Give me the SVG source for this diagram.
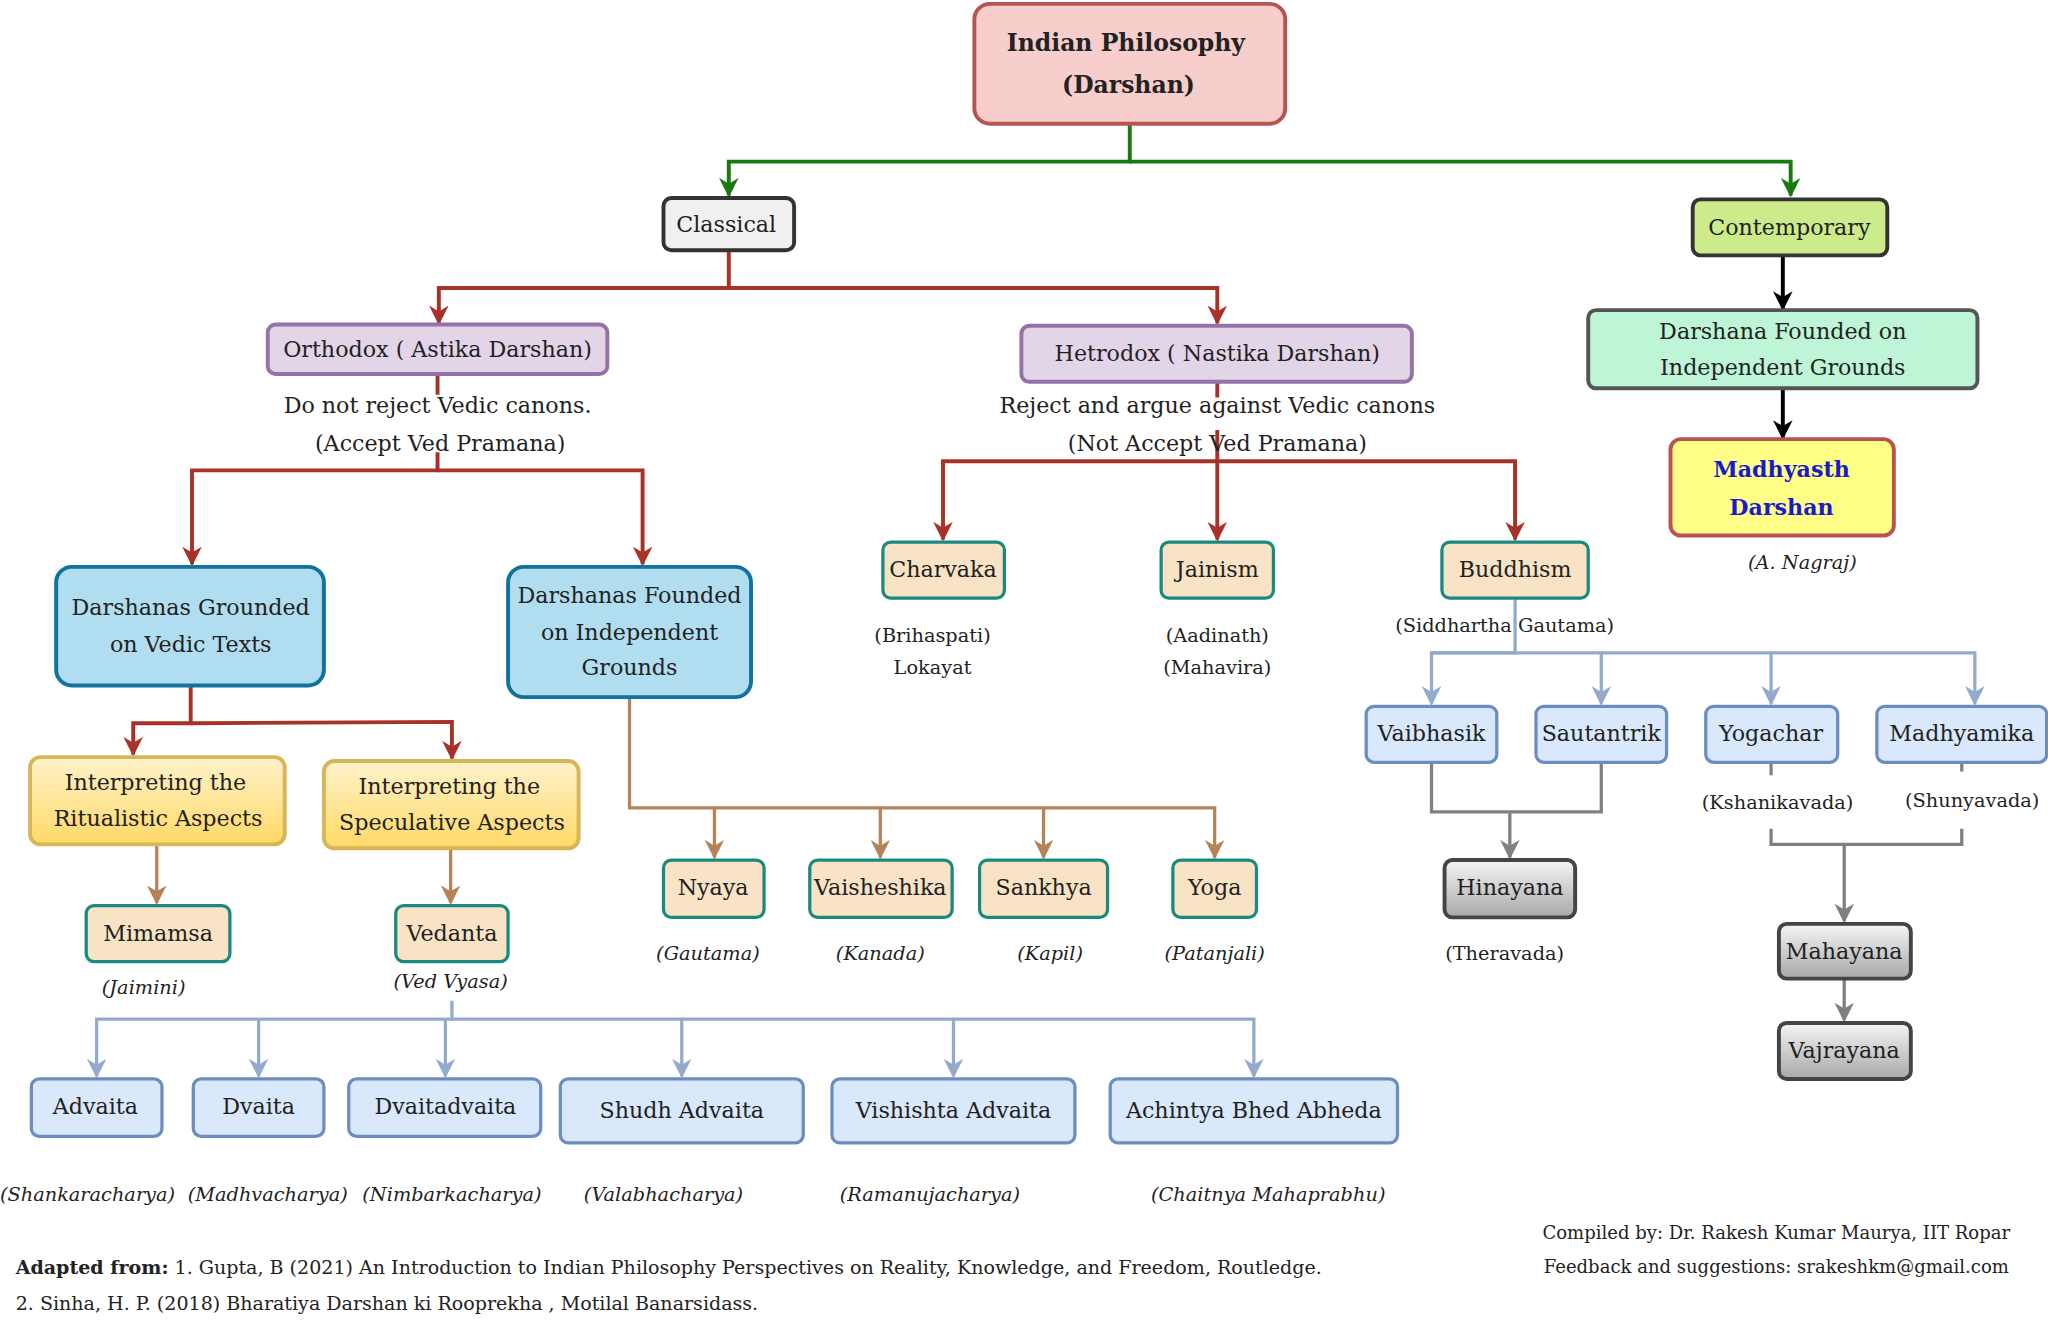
<svg xmlns="http://www.w3.org/2000/svg" width="2048" height="1324" viewBox="0 0 2048 1324">
<defs>
<style>
text{font-family:"DejaVu Serif","Liberation Serif",serif;fill:#222;text-anchor:middle}
.t{font-size:17px}
.s{font-size:14.8px}
.i{font-size:14.8px;font-style:italic}
.f{font-size:14.6px;text-anchor:start}
.g{fill:none;stroke:#1a7a10;stroke-width:3}
.r{fill:none;stroke:#a8322a;stroke-width:3}
.k{fill:none;stroke:#000;stroke-width:3}
.b{fill:none;stroke:#b5835a;stroke-width:2.5}
.l{fill:none;stroke:#92abcc;stroke-width:2.5}
.y{fill:none;stroke:#808080;stroke-width:2.5}
.teal{fill:#f8e3c5;stroke:#1a8a80;stroke-width:2.5}
.blu{fill:#dae8fc;stroke:#6c8ebf;stroke-width:2.5}
</style>
<marker id="ag" viewBox="0 0 10 10" refX="9" refY="5" markerWidth="5" markerHeight="5" orient="auto"><path d="M0,0L10,5L0,10L3,5z" fill="#1a7a10"/></marker>
<marker id="ar" viewBox="0 0 10 10" refX="9" refY="5" markerWidth="5" markerHeight="5" orient="auto"><path d="M0,0L10,5L0,10L3,5z" fill="#a8322a"/></marker>
<marker id="ak" viewBox="0 0 10 10" refX="9" refY="5" markerWidth="5" markerHeight="5" orient="auto"><path d="M0,0L10,5L0,10L3,5z" fill="#000"/></marker>
<marker id="ab" viewBox="0 0 10 10" refX="9" refY="5" markerWidth="6" markerHeight="6" orient="auto"><path d="M0,0L10,5L0,10L3,5z" fill="#b5835a"/></marker>
<marker id="al" viewBox="0 0 10 10" refX="9" refY="5" markerWidth="6" markerHeight="6" orient="auto"><path d="M0,0L10,5L0,10L3,5z" fill="#92abcc"/></marker>
<marker id="ay" viewBox="0 0 10 10" refX="9" refY="5" markerWidth="6" markerHeight="6" orient="auto"><path d="M0,0L10,5L0,10L3,5z" fill="#808080"/></marker>
<linearGradient id="yel" x1="0" y1="0" x2="0" y2="1"><stop offset="0" stop-color="#fff2cc"/><stop offset="1" stop-color="#ffd966"/></linearGradient>
<linearGradient id="gry" x1="0" y1="0" x2="0" y2="1"><stop offset="0" stop-color="#f5f5f5"/><stop offset="1" stop-color="#a8a8a8"/></linearGradient>
</defs>
<rect width="2048" height="1324" fill="#fff"/>
<g transform="scale(1.3061,1.3031)">
<g id="connectors">
<path class="g" d="M865,95V124H558V150" marker-end="url(#ag)"/>
<path class="g" d="M865,124H1371V150" marker-end="url(#ag)"/>
<path class="r" d="M558,192V221H336V248" marker-end="url(#ar)"/>
<path class="r" d="M558,221H932V248" marker-end="url(#ar)"/>
<path class="k" d="M1365,196V237" marker-end="url(#ak)"/>
<path class="k" d="M1365,298V336" marker-end="url(#ak)"/>
<path class="r" d="M335,287V303M335,347V361H147V433" marker-end="url(#ar)"/>
<path class="r" d="M335,361H492V433" marker-end="url(#ar)"/>
<path class="r" d="M932,293V305M932,330V354H722V414" marker-end="url(#ar)"/>
<path class="r" d="M932,354V414" marker-end="url(#ar)"/>
<path class="r" d="M932,354H1160V414" marker-end="url(#ar)"/>
<path class="r" d="M146,526V555H102V579" marker-end="url(#ar)"/>
<path class="r" d="M146,555L346,554V582" marker-end="url(#ar)"/>
<path class="b" d="M120,648V693" marker-end="url(#ab)"/>
<path class="b" d="M345,651V693" marker-end="url(#ab)"/>
<path class="b" d="M482,535V620H547V658" marker-end="url(#ab)"/>
<path class="b" d="M547,620H674V658" marker-end="url(#ab)"/>
<path class="b" d="M674,620H799V658" marker-end="url(#ab)"/>
<path class="b" d="M799,620H930V658" marker-end="url(#ab)"/>
<path class="l" d="M346,768V782H74V826" marker-end="url(#al)"/>
<path class="l" d="M198,782V826" marker-end="url(#al)"/>
<path class="l" d="M341,782V826" marker-end="url(#al)"/>
<path class="l" d="M346,782H522V826" marker-end="url(#al)"/>
<path class="l" d="M522,782H730V826" marker-end="url(#al)"/>
<path class="l" d="M730,782H960V826" marker-end="url(#al)"/>
<path class="l" d="M1160,459V501H1096V540" marker-end="url(#al)"/>
<path class="l" d="M1096,501H1226V540" marker-end="url(#al)"/>
<path class="l" d="M1226,501H1356V540" marker-end="url(#al)"/>
<path class="l" d="M1356,501H1512V540" marker-end="url(#al)"/>
<path class="y" d="M1096,585V623H1226V585M1156,623V658" marker-end="url(#ay)"/>
<path class="y" d="M1356,585V595M1502,585V592M1356,636V648H1502V636M1412,648V707" marker-end="url(#ay)"/>
<path class="y" d="M1412,751V783" marker-end="url(#ay)"/>
</g>
<g id="root"><rect x="746" y="3" width="238" height="92" rx="12" fill="#f8cecc" stroke="#b85450" stroke-width="3"/><text x="862" y="39" font-weight="bold" font-size="18">Indian Philosophy</text><text x="864" y="71" font-weight="bold" font-size="18">(Darshan)</text></g>
<g id="classical"><rect x="508" y="152" width="100" height="40" rx="6" fill="#f0f0f0" stroke="#333" stroke-width="3"/><text class="t" x="556" y="178">Classical</text></g>
<g id="contemporary"><rect x="1296" y="153" width="149" height="43" rx="6" fill="#cdeb8b" stroke="#333" stroke-width="3"/><text class="t" x="1370" y="180">Contemporary</text></g>
<g id="indep"><rect x="1216" y="238" width="298" height="60" rx="6" fill="#bdf5d6" stroke="#555" stroke-width="3"/><text class="t" x="1365" y="260">Darshana Founded on</text><text class="t" x="1365" y="288">Independent Grounds</text></g>
<g id="madhyasth"><rect x="1279" y="337" width="171" height="74" rx="8" fill="#ffff88" stroke="#b85450" stroke-width="3"/><text class="t" x="1364" y="366" font-weight="bold" style="fill:#1a1acc">Madhyasth</text><text class="t" x="1364" y="395" font-weight="bold" style="fill:#1a1acc">Darshan</text><text class="i" x="1380" y="437">(A. Nagraj)</text></g>
<g id="orthodox"><rect x="205" y="249" width="260" height="38" rx="6" fill="#e1d5e7" stroke="#9673a6" stroke-width="3"/><text class="t" x="335" y="274">Orthodox ( Astika Darshan)</text><text class="t" x="335" y="317">Do not reject  Vedic canons.</text><text class="t" x="337" y="346">(Accept Ved Pramana)</text></g>
<g id="hetrodox"><rect x="782" y="250" width="299" height="43" rx="6" fill="#e1d5e7" stroke="#9673a6" stroke-width="3"/><text class="t" x="932" y="277">Hetrodox ( Nastika Darshan)</text><text class="t" x="932" y="317">Reject and argue against Vedic canons</text><text class="t" x="932" y="346">(Not Accept Ved Pramana)</text></g>
<g id="grounded"><rect x="43" y="435" width="205" height="91" rx="12" fill="#b1ddf0" stroke="#10739e" stroke-width="3"/><text class="t" x="146" y="472">Darshanas Grounded</text><text class="t" x="146" y="500">on Vedic Texts</text></g>
<g id="founded"><rect x="389" y="435" width="186" height="100" rx="12" fill="#b1ddf0" stroke="#10739e" stroke-width="3"/><text class="t" x="482" y="463">Darshanas Founded</text><text class="t" x="482" y="491">on Independent</text><text class="t" x="482" y="518">Grounds</text></g>
<g id="charvaka"><rect class="teal" x="676" y="416" width="93" height="43" rx="6"/><text class="t" x="722" y="443">Charvaka</text><text class="s" x="714" y="493">(Brihaspati)</text><text class="s" x="714" y="517">Lokayat</text></g>
<g id="jainism"><rect class="teal" x="889" y="416" width="86" height="43" rx="6"/><text class="t" x="932" y="443">Jainism</text><text class="s" x="932" y="493">(Aadinath)</text><text class="s" x="932" y="517">(Mahavira)</text></g>
<g id="buddhism"><rect class="teal" x="1104" y="416" width="112" height="43" rx="6"/><text class="t" x="1160" y="443">Buddhism</text><text class="s" x="1152" y="485">(Siddhartha Gautama)</text></g>
<g id="vaibhasik"><rect class="blu" x="1046" y="542" width="100" height="43" rx="6"/><text class="t" x="1096" y="569">Vaibhasik</text></g>
<g id="sautantrik"><rect class="blu" x="1176" y="542" width="100" height="43" rx="6"/><text class="t" x="1226" y="569">Sautantrik</text></g>
<g id="yogachar"><rect class="blu" x="1306" y="542" width="101" height="43" rx="6"/><text class="t" x="1356" y="569">Yogachar</text><text class="s" x="1361" y="621">(Kshanikavada)</text></g>
<g id="madhyamika"><rect class="blu" x="1437" y="542" width="130" height="43" rx="6"/><text class="t" x="1502" y="569">Madhyamika</text><text class="s" x="1510" y="619">(Shunyavada)</text></g>
<g id="hinayana"><rect x="1106" y="660" width="100" height="44" rx="6" fill="url(#gry)" stroke="#444" stroke-width="3"/><text class="t" x="1156" y="687">Hinayana</text><text class="s" x="1152" y="737">(Theravada)</text></g>
<g id="mahayana"><rect x="1362" y="709" width="101" height="42" rx="6" fill="url(#gry)" stroke="#444" stroke-width="3"/><text class="t" x="1412" y="736">Mahayana</text></g>
<g id="vajrayana"><rect x="1362" y="785" width="101" height="43" rx="6" fill="url(#gry)" stroke="#444" stroke-width="3"/><text class="t" x="1412" y="812">Vajrayana</text></g>
<g id="ritual"><rect x="23" y="581" width="195" height="67" rx="8" fill="url(#yel)" stroke="#d6b656" stroke-width="3"/><text class="t" x="119" y="606">Interpreting the</text><text class="t" x="121" y="634">Ritualistic Aspects</text></g>
<g id="spec"><rect x="248" y="584" width="195" height="67" rx="8" fill="url(#yel)" stroke="#d6b656" stroke-width="3"/><text class="t" x="344" y="609">Interpreting the</text><text class="t" x="346" y="637">Speculative Aspects</text></g>
<g id="mimamsa"><rect class="teal" x="66" y="695" width="110" height="43" rx="6"/><text class="t" x="121" y="722">Mimamsa</text><text class="i" x="110" y="763">(Jaimini)</text></g>
<g id="vedanta"><rect class="teal" x="303" y="695" width="86" height="43" rx="6"/><text class="t" x="346" y="722">Vedanta</text><text class="i" x="345" y="758">(Ved Vyasa)</text></g>
<g id="nyaya"><rect class="teal" x="508" y="660" width="77" height="44" rx="6"/><text class="t" x="546" y="687">Nyaya</text><text class="i" x="542" y="737">(Gautama)</text></g>
<g id="vaisheshika"><rect class="teal" x="620" y="660" width="109" height="44" rx="6"/><text class="t" x="674" y="687">Vaisheshika</text><text class="i" x="674" y="737">(Kanada)</text></g>
<g id="sankhya"><rect class="teal" x="750" y="660" width="98" height="44" rx="6"/><text class="t" x="799" y="687">Sankhya</text><text class="i" x="804" y="737">(Kapil)</text></g>
<g id="yoga"><rect class="teal" x="898" y="660" width="64" height="44" rx="6"/><text class="t" x="930" y="687">Yoga</text><text class="i" x="930" y="737">(Patanjali)</text></g>
<g id="advaita"><rect class="blu" x="24" y="828" width="100" height="44" rx="6"/><text class="t" x="73" y="855">Advaita</text><text class="i" x="67" y="922">(Shankaracharya)</text></g>
<g id="dvaita"><rect class="blu" x="148" y="828" width="100" height="44" rx="6"/><text class="t" x="198" y="855">Dvaita</text><text class="i" x="205" y="922">(Madhvacharya)</text></g>
<g id="dvaitadvaita"><rect class="blu" x="267" y="828" width="147" height="44" rx="6"/><text class="t" x="341" y="855">Dvaitadvaita</text><text class="i" x="346" y="922">(Nimbarkacharya)</text></g>
<g id="shudh"><rect class="blu" x="429" y="828" width="186" height="49" rx="6"/><text class="t" x="522" y="858">Shudh Advaita</text><text class="i" x="508" y="922">(Valabhacharya)</text></g>
<g id="vishishta"><rect class="blu" x="637" y="828" width="186" height="49" rx="6"/><text class="t" x="730" y="858">Vishishta Advaita</text><text class="i" x="712" y="922">(Ramanujacharya)</text></g>
<g id="achintya"><rect class="blu" x="850" y="828" width="220" height="49" rx="6"/><text class="t" x="960" y="858">Achintya Bhed Abheda</text><text class="i" x="971" y="922">(Chaitnya Mahaprabhu)</text></g>
<g id="footer">
<text class="f" x="12" y="978"><tspan font-weight="bold">Adapted from:</tspan> 1. Gupta, B (2021) An Introduction to Indian Philosophy Perspectives on Reality, Knowledge, and Freedom, Routledge.</text>
<text class="f" x="12" y="1005">2. Sinha, H. P. (2018) Bharatiya Darshan ki Rooprekha , Motilal Banarsidass.</text>
<text class="s" x="1360" y="951" style="font-size:13.8px">Compiled by: Dr. Rakesh Kumar Maurya, IIT Ropar</text>
<text class="s" x="1360" y="977" style="font-size:13.8px">Feedback and suggestions: srakeshkm@gmail.com</text>
</g>
</g>
</svg>
